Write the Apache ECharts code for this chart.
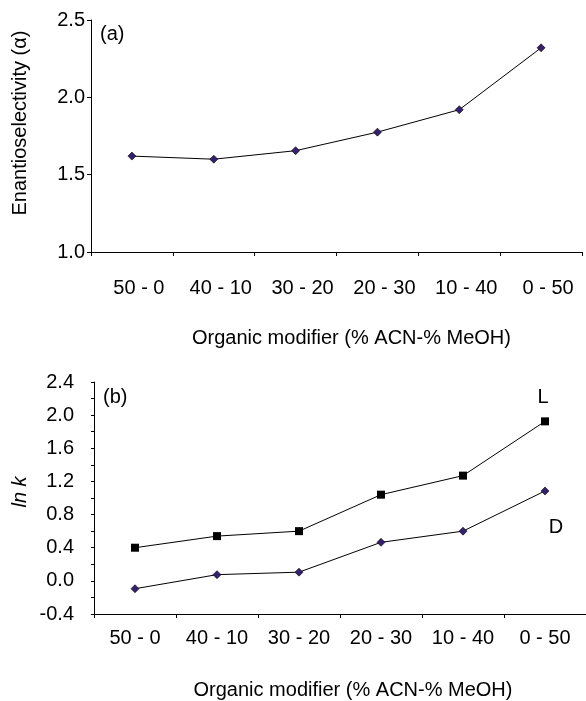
<!DOCTYPE html>
<html>
<head>
<meta charset="utf-8">
<script src="https://cdn.jsdelivr.net/npm/echarts@6/dist/echarts.min.js"></script>
<style>
html,body{margin:0;padding:0;background:#fff;}
#chart{width:586px;height:701px;}
</style>
</head>
<body>
<div id="chart"></div>
<script>
var categories = ['50 - 0', '40 - 10', '30 - 20', '20 - 30', '10 - 40', '0 - 50'];
var alphaValues = [1.62, 1.60, 1.655, 1.775, 1.92, 2.32];
var lnkL = [0.40, 0.54, 0.60, 1.04, 1.27, 1.925];
var lnkD = [-0.095, 0.075, 0.105, 0.465, 0.60, 1.085];
var xTitle = 'Organic modifier (% ACN-% MeOH)';

var FONT = '"Liberation Sans", Arial, sans-serif';
var FS = 20;
var chart = echarts.init(document.getElementById('chart'), null, {renderer: 'canvas'});

function fmt(v){ return v.toFixed(1); }

var option = {
  backgroundColor: '#fff',
  animation: false,
  textStyle: {fontFamily: FONT, color: '#000'},
  grid: [
    {left: 91, top: 20, right: 4, height: 232},
    {left: 94, top: 382, right: 0, height: 232}
  ],
  xAxis: [
    {
      gridIndex: 0, type: 'category', data: categories, boundaryGap: true,
      axisLine: {onZero: false, lineStyle: {color: '#000', width: 1}},
      axisTick: {show: true, length: 4, lineStyle: {color: '#000'}},
      axisLabel: {fontSize: FS, fontFamily: FONT, color: '#000', margin: 26, interval: 0, padding: [0, 0, 0, 14]},
      splitLine: {show: false},
      name: xTitle, nameLocation: 'middle', nameGap: 76,
      nameTextStyle: {fontSize: FS, fontFamily: FONT, color: '#000', padding: [0, 0, 0, 30]}
    },
    {
      gridIndex: 1, type: 'category', data: categories, boundaryGap: true,
      axisLine: {onZero: false, lineStyle: {color: '#000', width: 1}},
      axisTick: {show: true, length: 4, lineStyle: {color: '#000'}},
      axisLabel: {fontSize: FS, fontFamily: FONT, color: '#000', margin: 14, interval: 0},
      splitLine: {show: false},
      name: xTitle, nameLocation: 'middle', nameGap: 66,
      nameTextStyle: {fontSize: FS, fontFamily: FONT, color: '#000', padding: [0, 0, 0, 26]}
    }
  ],
  yAxis: [
    {
      gridIndex: 0, type: 'value', min: 1.0, max: 2.5, interval: 0.5,
      axisLine: {show: true, onZero: false, lineStyle: {color: '#000', width: 1}},
      axisTick: {show: true, length: 4, lineStyle: {color: '#000'}},
      axisLabel: {fontSize: FS, fontFamily: FONT, color: '#000', margin: 6, formatter: fmt},
      splitLine: {show: false}
    },
    {
      gridIndex: 1, type: 'value', min: -0.4, max: 2.4, interval: 0.4,
      axisLine: {show: true, onZero: false, lineStyle: {color: '#000', width: 1}},
      axisTick: {show: true, length: 3, lineStyle: {color: '#000'}},
      minorTick: {show: true, splitNumber: 2, length: 3, lineStyle: {color: '#000'}},
      axisLabel: {fontSize: FS, fontFamily: FONT, color: '#000', margin: 20, formatter: fmt},
      splitLine: {show: false}
    }
  ],
  series: [
    {
      type: 'line', xAxisIndex: 0, yAxisIndex: 0, data: alphaValues,
      symbol: 'diamond', symbolSize: 8,
      itemStyle: {color: '#33206e', borderColor: '#000', borderWidth: 0.6},
      lineStyle: {color: '#000', width: 1}
    },
    {
      type: 'line', xAxisIndex: 1, yAxisIndex: 1, data: lnkL,
      symbol: 'rect', symbolSize: 8,
      itemStyle: {color: '#000', borderColor: '#000', borderWidth: 0},
      lineStyle: {color: '#000', width: 1}
    },
    {
      type: 'line', xAxisIndex: 1, yAxisIndex: 1, data: lnkD,
      symbol: 'diamond', symbolSize: 8,
      itemStyle: {color: '#33206e', borderColor: '#000', borderWidth: 0.6},
      lineStyle: {color: '#000', width: 1}
    }
  ],
  graphic: [
    {type: 'text', x: 20, y: 123, rotation: Math.PI / 2,
     style: {text: 'Enantioselectivity (\u03b1)', font: FS + 'px ' + FONT, fill: '#000', align: 'center', verticalAlign: 'middle'}},
    {type: 'text', x: 20, y: 492, rotation: Math.PI / 2,
     style: {text: 'ln k', font: 'italic ' + FS + 'px ' + FONT, fill: '#000', align: 'center', verticalAlign: 'middle'}},
    {type: 'text', x: 100, y: 34,
     style: {text: '(a)', font: FS + 'px ' + FONT, fill: '#000', align: 'left', verticalAlign: 'middle'}},
    {type: 'text', x: 103, y: 397,
     style: {text: '(b)', font: FS + 'px ' + FONT, fill: '#000', align: 'left', verticalAlign: 'middle'}},
    {type: 'text', x: 543, y: 397,
     style: {text: 'L', font: FS + 'px ' + FONT, fill: '#000', align: 'center', verticalAlign: 'middle'}},
    {type: 'text', x: 556, y: 527,
     style: {text: 'D', font: FS + 'px ' + FONT, fill: '#000', align: 'center', verticalAlign: 'middle'}}
  ]
};
chart.setOption(option);
</script>
</body>
</html>
